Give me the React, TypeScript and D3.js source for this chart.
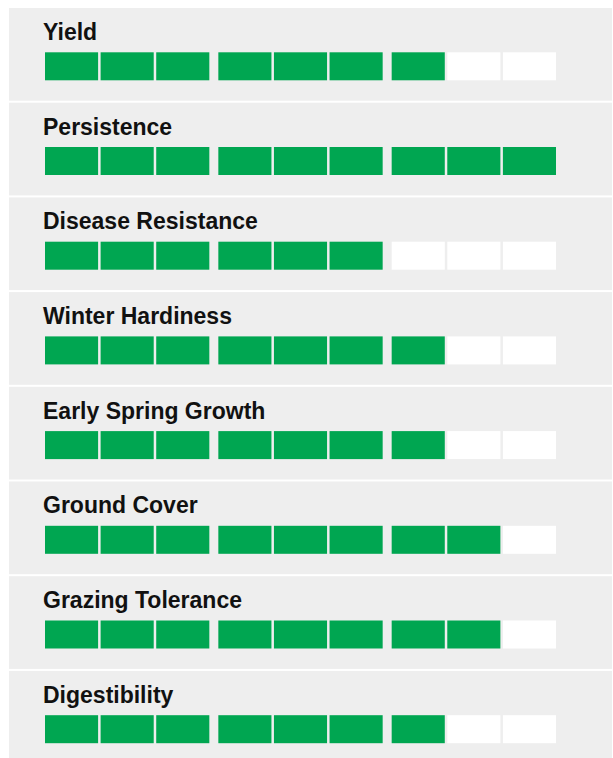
import React from 'react';
import * as d3 from 'd3';

// Ratings on a 9-point scale, shown as 3 groups of 3 blocks
const traits = [
  'Yield',
  'Persistence',
  'Disease Resistance',
  'Winter Hardiness',
  'Early Spring Growth',
  'Ground Cover',
  'Grazing Tolerance',
  'Digestibility',
];
const scores = [7, 9, 6, 7, 7, 8, 8, 7];
const groups = [0, 1, 2];
const blocksPerGroup = [0, 1, 2];

const W = 613;
const H = 758;
const STEP = 94.7;

const App = () => {
  // panels stacked vertically
  const y = d3
    .scaleBand<string>()
    .domain(traits)
    .range([8, 8 + traits.length * STEP - 2])
    .paddingInner(2 / STEP);

  // the three groups across the row
  const gx = d3
    .scaleBand<number>()
    .domain(groups)
    .range([45, 556])
    .paddingInner(0.052);

  // blocks inside one group
  const bx = d3
    .scaleBand<number>()
    .domain(blocksPerGroup)
    .range([0, gx.bandwidth()])
    .paddingInner(0.045);

  return (
    <div style={{ position: 'absolute', left: 0, top: 0 }}>
      <svg width={W} height={H} style={{ display: 'block' }}>
        <rect x={0} y={0} width={W} height={H} fill="#ffffff" />
        {traits.map((t, i) => {
          const top = y(t) as number;
          return (
            <g key={t}>
              <rect x={9} y={top} width={603} height={y.bandwidth()} fill="#eeeeee" />
              <text
                x={43}
                y={top + 31.8}
                fontFamily="'Liberation Sans', Arial, Helvetica, sans-serif"
                fontWeight="bold"
                fontSize={23}
                fill="#111111"
              >
                {t}
              </text>
              {groups.map((g) =>
                blocksPerGroup.map((b) => {
                  const k = g * blocksPerGroup.length + b;
                  return (
                    <rect
                      key={`${g}-${b}`}
                      x={(gx(g) as number) + (bx(b) as number)}
                      y={top + 44.3}
                      width={bx.bandwidth()}
                      height={28}
                      fill={k < scores[i] ? '#00a651' : '#ffffff'}
                    />
                  );
                })
              )}
            </g>
          );
        })}
      </svg>
    </div>
  );
};

export default App;
